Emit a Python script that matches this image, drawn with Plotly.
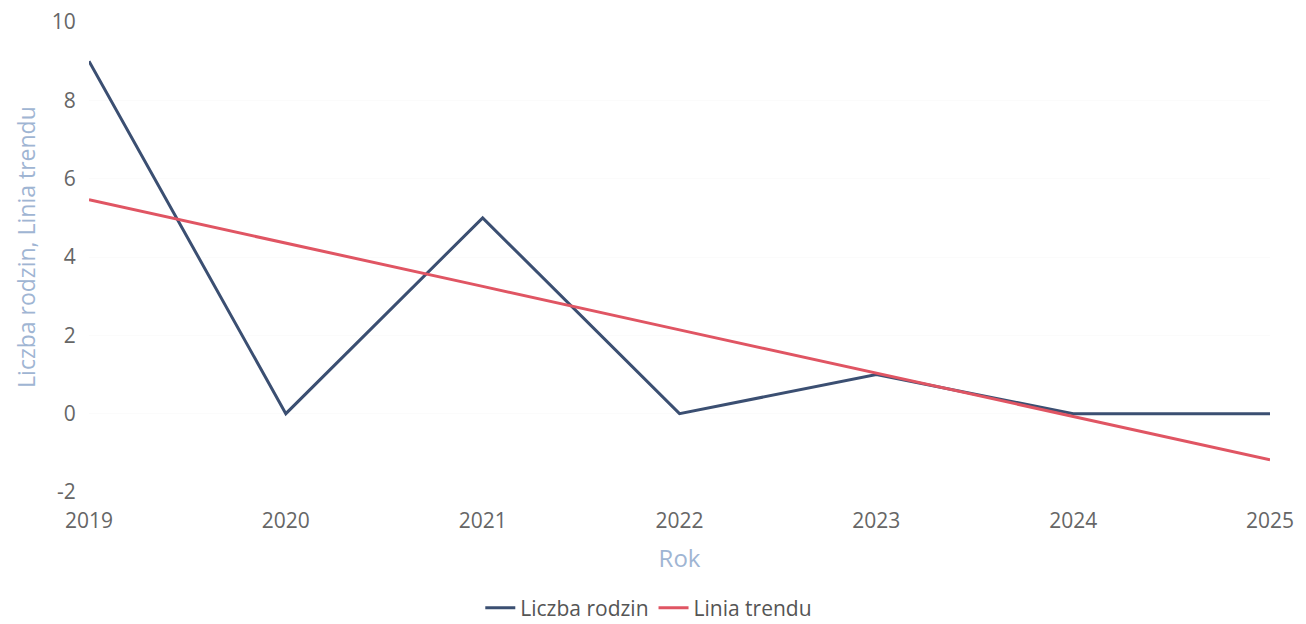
import plotly.graph_objects as go

years = [2019, 2020, 2021, 2022, 2023, 2024, 2025]
liczba_rodzin = [9, 0, 5, 0, 1, 0, 0]
linia_trendu = [5.46, 4.36, 3.25, 2.14, 1.04, -0.07, -1.18]
y_ticks = [-2, 0, 2, 4, 6, 8, 10]
y_labels = ["-2", "0", "2", "4", "6", "8", "10"]

fig = go.Figure()
fig.add_trace(go.Scatter(x=years, y=liczba_rodzin, mode="lines", name="Liczba rodzin",
                         line={"color": "#3b4f72", "width": 3}))
fig.add_trace(go.Scatter(x=years, y=linia_trendu, mode="lines", name="Linia trendu",
                         line={"color": "#e05563", "width": 3}))

# page body adds an 8px margin, so the figure is sized a little smaller than the window
fig.update_layout(
    width=1298, height=616,
    margin={"l": 81, "r": 36, "t": 14, "b": 132, "autoexpand": False},
    paper_bgcolor="white", plot_bgcolor="white",
    font={"family": "Open Sans", "size": 21, "color": "#666666"},
    legend={"orientation": "h", "x": 0.474, "xanchor": "center", "yref": "container", "y": 0.026,
            "yanchor": "middle", "font": {"size": 21, "color": "#555555"}},
    annotations=[{"text": "Liczba rodzin, Linia trendu", "textangle": -90, "showarrow": False,
                  "xref": "paper", "yref": "paper", "x": -0.054, "y": 0.522,
                  "xanchor": "center", "yanchor": "middle",
                  "font": {"color": "#9fb5d3", "size": 23}}],
)
fig.update_xaxes(range=[2019, 2025], dtick=1, showgrid=False, zeroline=False, showline=False,
                 title={"text": "Rok", "font": {"color": "#9fb5d3", "size": 24}, "standoff": 16},
                 ticks="outside", ticklen=10, tickcolor="white", tickfont={"color": "#666666"})
fig.update_yaxes(range=[-2, 10], tickvals=y_ticks, ticktext=y_labels, showgrid=True,
                 gridcolor="#fbfbfb", zeroline=False, showline=False, ticklabeloverflow="allow",
                 ticks="outside", ticklen=8, tickcolor="white")

fig.write_html("out.html")
